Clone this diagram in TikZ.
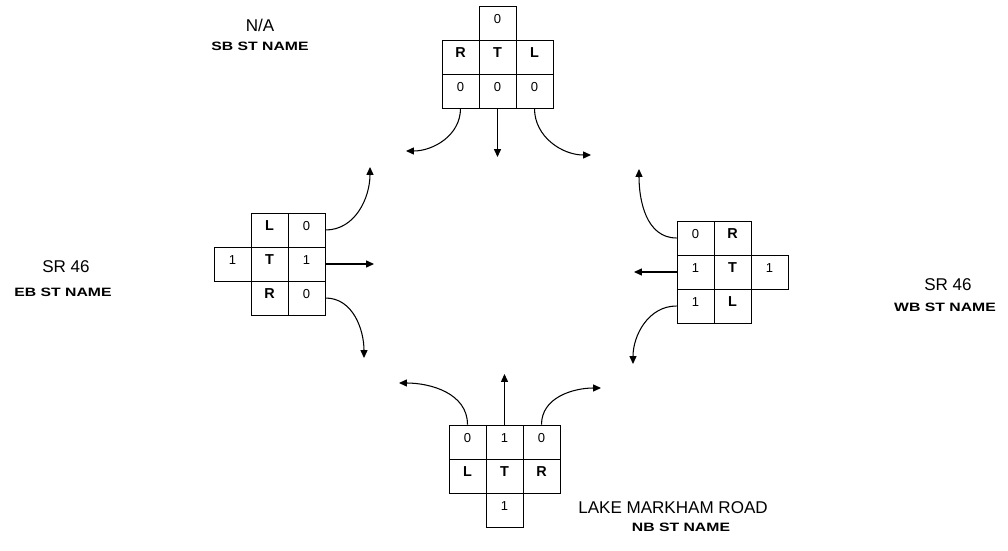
\documentclass[tikz,border=0pt]{standalone}
\usepackage{fontspec}
\usepackage{graphicx}
\setmainfont{Liberation Sans}
\usetikzlibrary{arrows.meta}

\begin{document}
\begin{tikzpicture}[x=0.02cm, y=-0.02cm,
	cell/.style={rectangle, draw, line width=0.5pt, minimum width=0.74cm, minimum height=0.68cm, inner sep=0pt, text height=5pt, text depth=4.5pt},
	num/.style={cell, font=\fontsize{7.4}{8}\selectfont},
	mov/.style={cell, font=\bfseries\fontsize{8.2}{9}\selectfont},
	street/.style={font=\fontsize{9.7}{11}\selectfont, inner sep=0pt},
	dir/.style={font=\bfseries\fontsize{6.9}{8}\selectfont, inner sep=0pt},
	flow/.style={line width=0.6pt, -{Triangle[length=4.5pt, width=4pt]}}]
		\useasboundingbox (0,0) rectangle (1008,551);

		\node[num] (sbu) at (497.5,23.5) {0};
		\node[mov] (sbR) at (460.5,57) {R};
		\node[mov] (sbT) at (497.5,57) {T};
		\node[mov] (sbL) at (534.5,57) {L};
		\node[num] (sbr) at (460.5,91) {0};
		\node[num] (sbt) at (497.5,91) {0};
		\node[num] (sbl) at (534.5,91) {0};

		\node[mov] (ebL) at (269.5,230) {L};
		\node[num] (ebl) at (306.5,230) {0};
		\node[num] (ebu) at (232.5,264) {1};
		\node[mov] (ebT) at (269.5,264) {T};
		\node[num] (ebt) at (306.5,264) {1};
		\node[mov] (ebR) at (269.5,298) {R};
		\node[num] (ebr) at (306.5,298) {0};

		\node[num] (wbl) at (695.5,238) {0};
		\node[mov] (wbR) at (732.5,238) {R};
		\node[num] (wbt) at (695.5,272) {1};
		\node[mov] (wbT) at (732.5,272) {T};
		\node[num] (wbu) at (769.5,272) {1};
		\node[num] (wbr) at (695.5,306) {1};
		\node[mov] (wbL) at (732.5,306) {L};

		\node[num] (nbl) at (467.5,442) {0};
		\node[num] (nbt) at (504.5,442) {1};
		\node[num] (nbr) at (541.5,442) {0};
		\node[mov] (nbL) at (467.5,476) {L};
		\node[mov] (nbT) at (504.5,476) {T};
		\node[mov] (nbR) at (541.5,476) {R};
		\node[num] (nbu) at (504.5,510) {1};

		\coordinate (sbRend) at (406,151);
		\coordinate (sbTend) at (497.5,157);
		\coordinate (sbLend) at (591,155);
		\coordinate (ebLend) at (370,167);
		\coordinate (ebTend) at (374,264);
		\coordinate (ebRend) at (364,358);
		\coordinate (wbRend) at (639,169);
		\coordinate (wbTend) at (634,272);
		\coordinate (wbLend) at (633,364);
		\coordinate (nbLend) at (399,383);
		\coordinate (nbTend) at (504.5,374);
		\coordinate (nbRend) at (601,388);

		\draw[flow] (sbr.south) to[out=-90, in=0] (sbRend);
		\draw[flow] (sbt.south) -- (sbTend);
		\draw[flow] (sbl.south) to[out=-90, in=180] (sbLend);
		\draw[flow] (ebl.east) to[out=0, in=-90] (ebLend);
		\draw[flow] (ebt.east) -- (ebTend);
		\draw[flow] (ebr.east) to[out=0, in=90] (ebRend);
		\draw[flow] (wbl.west) to[out=180, in=-90] (wbRend);
		\draw[flow] (wbt.west) -- (wbTend);
		\draw[flow] (wbr.west) to[out=180, in=90] (wbLend);
		\draw[flow] (nbl.north) to[out=90, in=0] (nbLend);
		\draw[flow] (nbt.north) -- (nbTend);
		\draw[flow] (nbr.north) to[out=90, in=180] (nbRend);

		\node[street] (sbname) at (260,25) {N/A};
		\node[dir] (sbdir) at (260,46) {\scalebox{1.3}[1]{SB ST NAME}};
		\node[street] (ebname) at (66,267) {SR 46};
		\node[dir] (ebdir) at (63,292) {\scalebox{1.3}[1]{EB ST NAME}};
		\node[street] (wbname) at (948,285) {SR 46};
		\node[dir] (wbdir) at (945,307) {\scalebox{1.3}[1]{WB ST NAME}};
		\node[street] (nbname) at (673,508) {LAKE MARKHAM ROAD};
		\node[dir] (nbdir) at (681,527) {\scalebox{1.3}[1]{NB ST NAME}};
\end{tikzpicture}
\end{document}
